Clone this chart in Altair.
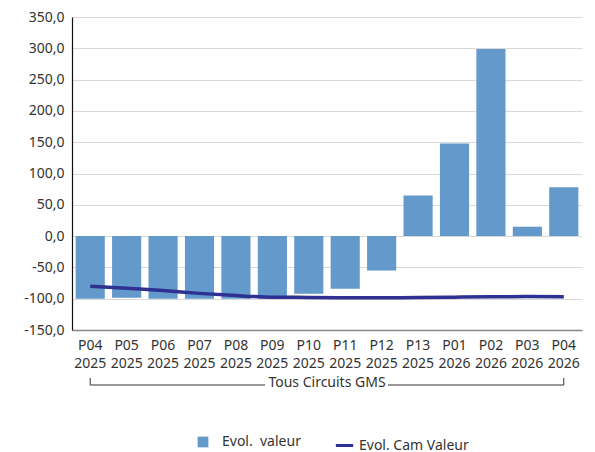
import altair as alt
import pandas as pd

periods = ["P04 2025", "P05 2025", "P06 2025", "P07 2025", "P08 2025", "P09 2025", "P10 2025",
           "P11 2025", "P12 2025", "P13 2025", "P01 2026", "P02 2026", "P03 2026", "P04 2026"]
evol_valeur = [-100.0, -98.5, -100.0, -100.0, -100.0, -100.0, -92.0, -84.0, -55.0, 65.0, 148.0, 299.0, 15.0, 78.0]
evol_cam = [-80.0, -83.5, -87.0, -91.5, -95.0, -97.5, -98.0, -98.5, -98.5, -98.0, -97.5, -97.0, -96.5, -97.0]
y_ticks = [-150, -100, -50, 0, 50, 100, 150, 200, 250, 300, 350]
group_label = "Tous Circuits GMS"
series_bar = "Evol.\u00a0 valeur"
series_line = "Evol. Cam Valeur"

FONT = "Noto Sans"
W, H = 510, 313

df = pd.DataFrame({"period": periods, "valeur": evol_valeur, "cam": evol_cam,
                   "s1": series_bar, "s2": series_line})

xscale = alt.Scale(domain=periods, paddingInner=0.2, paddingOuter=0.1)
yscale = alt.Scale(domain=[-150, 350], nice=False, zero=False)

xaxis = alt.Axis(title=None, labelAngle=0, ticks=False, labelExpr="split(datum.label, ' ')",
                 labelFont=FONT, labelFontSize=14, labelColor="#333333", labelLineHeight=18,
                 labelPadding=8, domainColor="#888888", domainWidth=1.5, grid=False,
                 labelBaseline="top", labelOverlap=False)
yaxis = alt.Axis(title=None, values=y_ticks, ticks=False, labelPadding=8, labelOverlap=False,
                 labelExpr="replace(replace(format(datum.value, '.1f'), '.', ','), '\u2212', '-')",
                 labelFont=FONT, labelFontSize=14, labelColor="#333333",
                 domainColor="#111111", domainWidth=1.2, gridColor="#d9d9d9", gridWidth=1)

bars = alt.Chart(df).mark_bar().encode(
    x=alt.X("period:N", scale=xscale, axis=xaxis, sort=periods),
    y=alt.Y("valeur:Q", scale=yscale, axis=yaxis),
    fill=alt.Fill("s1:N", scale=alt.Scale(domain=[series_bar], range=["#6399CB"]),
                  legend=alt.Legend(title=None, orient="none", legendX=124, legendY=418,
                                    symbolType="square", symbolSize=115, symbolStrokeWidth=0,
                                    labelFont=FONT, labelFontSize=14, labelColor="#333333",
                                    labelOffset=12)),
)

line = alt.Chart(df).mark_line(interpolate="monotone", strokeWidth=3.5).encode(
    x=alt.X("period:N", scale=xscale, sort=periods, axis=xaxis),
    y=alt.Y("cam:Q", scale=yscale, axis=yaxis),
    stroke=alt.Stroke("s2:N", scale=alt.Scale(domain=[series_line], range=["#2E3192"]),
                      legend=alt.Legend(title=None, orient="none", legendX=262, legendY=418,
                                        symbolType="stroke", symbolSize=300, symbolStrokeWidth=3,
                                        labelFont=FONT, labelFontSize=14, labelColor="#333333",
                                        labelOffset=4)),
)

ends = pd.DataFrame({"period": [periods[0], periods[-1]]})
ticks_v = alt.Chart(ends).mark_rule(color="#333333", strokeWidth=1).encode(
    x=alt.X("period:N", scale=xscale, sort=periods, axis=xaxis),
    y=alt.value(H + 48), y2=alt.value(H + 55),
)
hline_left = alt.Chart(ends.iloc[[0]]).mark_rule(color="#333333", strokeWidth=1).encode(
    x=alt.X("period:N", scale=xscale, sort=periods, axis=xaxis),
    x2=alt.value(193),
    y=alt.value(H + 55),
)
hline_right = alt.Chart(ends.iloc[[1]]).mark_rule(color="#333333", strokeWidth=1).encode(
    x=alt.X("period:N", scale=xscale, sort=periods, axis=xaxis),
    x2=alt.value(316),
    y=alt.value(H + 55),
)
label_df = pd.DataFrame({"t": [group_label]})
grp_text = alt.Chart(label_df).mark_text(font=FONT, fontSize=14, color="#333333", baseline="middle").encode(
    text="t:N", x=alt.value(W / 2), y=alt.value(H + 53),
)

chart = alt.layer(bars, line, ticks_v, hline_left, hline_right, grp_text).properties(
    width=W, height=H, autosize=alt.AutoSizeParams(type="none"), background="white",
    padding={"left": 64, "top": 9, "right": 5, "bottom": 125},
).configure(view=alt.ViewConfig(stroke=None), axis=alt.AxisConfig(labelOverlap=False))

chart.save("out.html", embed_options={"renderer": "svg", "actions": False})
